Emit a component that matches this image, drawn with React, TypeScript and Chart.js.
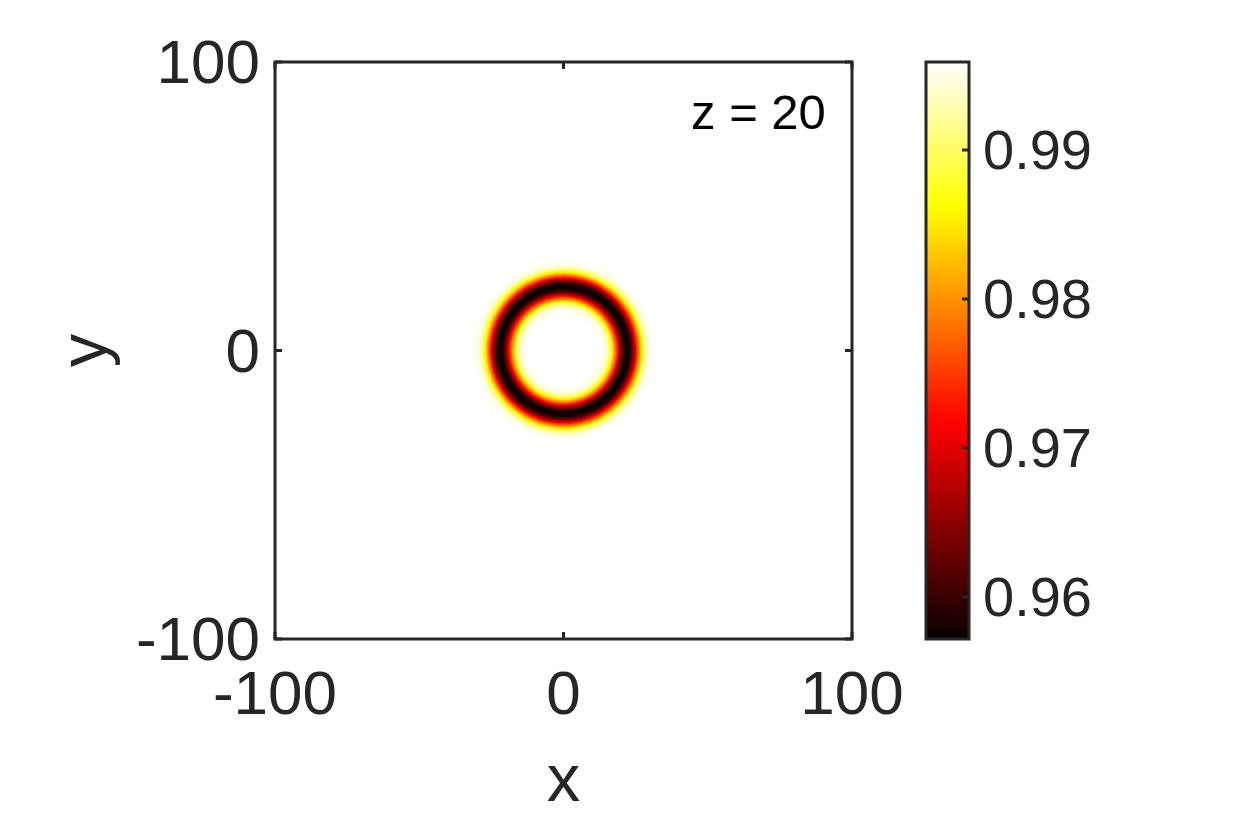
import React, { useEffect, useRef } from 'react';
import { Chart, registerables } from 'chart.js';

Chart.register(...registerables);

// ---- data ----
const X_TICKS = [-100, 0, 100];
const Y_TICKS = [-100, 0, 100];
const CB_TICKS = [0.96, 0.97, 0.98, 0.99];
const CB_MIN = 0.95716;
const CB_MAX = 0.99591;
const X_RANGE = [-100, 100];
const Y_RANGE = [-100, 100];
const RING_CENTER = [0, 0];
// radial profile of the field (radius in x/y units, value)
const PROFILE_R = [0, 12, 13, 14, 15, 16, 17, 18, 19, 20, 21, 22, 23, 24, 25, 26, 27, 28, 29, 30, 31, 32];
const PROFILE_V = [
  0.9959, 0.9959, 0.9957, 0.9952, 0.9938, 0.9905, 0.985, 0.978, 0.9705, 0.9635, 0.9585, 0.9572,
  0.9585, 0.9635, 0.9705, 0.978, 0.985, 0.9905, 0.9938, 0.9952, 0.9957, 0.9959,
];
const ANNOT_TEXT = 'z = 20';
const ANNOT_X = 44.2;
const ANNOT_Y = 81.4;
const X_TITLE = 'x';
const Y_TITLE = 'y';

// hot colormap
const HOT_POS = [0, 0.375, 0.75, 1];
const HOT_RGB = [
  [8, 0, 0],
  [255, 0, 0],
  [255, 255, 0],
  [255, 255, 255],
];

const FONT = '"Liberation Sans", Arial, Helvetica, sans-serif';
const AX_COLOR = '#262626';
const AREA = { left: 275, top: 62, right: 852, bottom: 639 };
const W = 1236;
const H = 823;

function hotColor(t: number): string {
  const tt = Math.max(0, Math.min(1, t));
  for (let i = 0; i < HOT_POS.length - 1; i++) {
    if (tt <= HOT_POS[i + 1]) {
      const f = (tt - HOT_POS[i]) / (HOT_POS[i + 1] - HOT_POS[i]);
      const c = HOT_RGB[i].map((v, k) => Math.round(v + (HOT_RGB[i + 1][k] - v) * f));
      return `rgb(${c[0]},${c[1]},${c[2]})`;
    }
  }
  return 'rgb(255,255,255)';
}

function valueColor(v: number): string {
  return hotColor((v - CB_MIN) / (CB_MAX - CB_MIN));
}

const heatPlugin = {
  id: 'heatRing',
  beforeDatasetsDraw(chart: any) {
    const { ctx, chartArea: a, scales } = chart;
    const x = scales.x;
    const y = scales.y;
    ctx.save();
    ctx.beginPath();
    ctx.rect(a.left, a.top, a.right - a.left, a.bottom - a.top);
    ctx.clip();
    const cx = x.getPixelForValue(RING_CENTER[0]);
    const cy = y.getPixelForValue(RING_CENTER[1]);
    const rMax = PROFILE_R[PROFILE_R.length - 1];
    const rx = Math.abs(x.getPixelForValue(RING_CENTER[0] + rMax) - cx);
    const ry = Math.abs(y.getPixelForValue(RING_CENTER[1] + rMax) - cy);
    ctx.translate(cx, cy);
    ctx.scale(1, ry / rx);
    const g = ctx.createRadialGradient(0, 0, 0, 0, 0, rx);
    PROFILE_R.forEach((r, i) => g.addColorStop(r / rMax, valueColor(PROFILE_V[i])));
    ctx.fillStyle = g;
    ctx.beginPath();
    ctx.arc(0, 0, rx, 0, Math.PI * 2);
    ctx.fill();
    ctx.restore();
  },
  afterDraw(chart: any) {
    const { ctx, chartArea: a, scales } = chart;
    const x = scales.x;
    const y = scales.y;
    const cb = scales.cb;
    const TL = 7;
    ctx.save();
    ctx.strokeStyle = AX_COLOR;
    ctx.lineWidth = 3;
    // ticks (inward, MATLAB style)
    ctx.beginPath();
    X_TICKS.forEach((v) => {
      const px = x.getPixelForValue(v);
      ctx.moveTo(px, a.bottom);
      ctx.lineTo(px, a.bottom - TL);
      ctx.moveTo(px, a.top);
      ctx.lineTo(px, a.top + TL);
    });
    Y_TICKS.forEach((v) => {
      const py = y.getPixelForValue(v);
      ctx.moveTo(a.left, py);
      ctx.lineTo(a.left + TL, py);
      ctx.moveTo(a.right, py);
      ctx.lineTo(a.right - TL, py);
    });
    ctx.stroke();
    // frame
    ctx.strokeRect(a.left, a.top, a.right - a.left, a.bottom - a.top);

    // colorbar
    const cbL = cb.left + 74;
    const cbR = cbL + 43;
    const yTop = cb.getPixelForValue(CB_MAX);
    const yBot = cb.getPixelForValue(CB_MIN);
    const lg = ctx.createLinearGradient(0, yBot, 0, yTop);
    HOT_POS.forEach((p, i) => {
      const c = HOT_RGB[i];
      lg.addColorStop(p, `rgb(${c[0]},${c[1]},${c[2]})`);
    });
    ctx.fillStyle = lg;
    ctx.fillRect(cbL, yTop, cbR - cbL, yBot - yTop);
    ctx.beginPath();
    CB_TICKS.forEach((v) => {
      const py = cb.getPixelForValue(v);
      ctx.moveTo(cbR, py);
      ctx.lineTo(cbR - TL, py);
    });
    ctx.stroke();
    ctx.strokeRect(cbL, yTop, cbR - cbL, yBot - yTop);

    // annotation
    ctx.fillStyle = '#000';
    ctx.font = `49px ${FONT}`;
    ctx.textAlign = 'left';
    ctx.textBaseline = 'middle';
    ctx.fillText(ANNOT_TEXT, x.getPixelForValue(ANNOT_X), y.getPixelForValue(ANNOT_Y));
    ctx.restore();
  },
};

const zeroPadV = (s: any) => {
  s.paddingTop = 0;
  s.paddingBottom = 0;
};

export default function App() {
  const ref = useRef<HTMLCanvasElement | null>(null);
  useEffect(() => {
    if (!ref.current) return;
    const tickFont = { family: FONT, size: 62 };
    const titleFont = { family: FONT, size: 67 };
    const chart = new Chart(ref.current, {
      type: 'scatter',
      data: { datasets: [] },
      options: {
        animation: false,
        responsive: false,
        events: [],
        layout: { padding: { top: AREA.top, left: 0, right: 0, bottom: 0 } },
        plugins: { legend: { display: false }, tooltip: { enabled: false } },
        scales: {
          x: {
            type: 'linear',
            position: 'bottom',
            min: X_RANGE[0],
            max: X_RANGE[1],
            grid: { display: false, drawTicks: false },
            border: { display: false },
            afterBuildTicks: (s: any) => {
              s.ticks = X_TICKS.map((v) => ({ value: v }));
            },
            afterFit: (s: any) => {
              s.height = H - AREA.bottom;
              s.paddingLeft = 0;
              s.paddingRight = 0;
            },
            ticks: {
              font: tickFont,
              color: AX_COLOR,
              padding: 21,
              maxRotation: 0,
              autoSkip: false,
              callback: (v: any) => String(v),
            },
            title: {
              display: true,
              text: X_TITLE,
              font: titleFont,
              color: AX_COLOR,
              padding: { top: 0, bottom: 0 },
            },
          },
          y: {
            type: 'linear',
            position: 'left',
            min: Y_RANGE[0],
            max: Y_RANGE[1],
            grid: { display: false, drawTicks: false },
            border: { display: false },
            afterBuildTicks: (s: any) => {
              s.ticks = Y_TICKS.map((v) => ({ value: v }));
            },
            afterFit: (s: any) => {
              s.width = AREA.left;
              zeroPadV(s);
            },
            ticks: {
              font: tickFont,
              color: AX_COLOR,
              padding: 15,
              labelOffset: 4,
              autoSkip: false,
              callback: (v: any) => String(v),
            },
            title: {
              display: true,
              text: Y_TITLE,
              font: titleFont,
              color: AX_COLOR,
              padding: { top: 47, bottom: 0 },
            },
          },
          cb: {
            type: 'linear',
            position: 'right',
            min: CB_MIN,
            max: CB_MAX,
            grid: { display: false, drawTicks: false },
            border: { display: false },
            afterBuildTicks: (s: any) => {
              s.ticks = CB_TICKS.map((v) => ({ value: v }));
            },
            afterFit: (s: any) => {
              s.width = W - AREA.right;
              zeroPadV(s);
            },
            ticks: {
              font: { family: FONT, size: 56 },
              color: AX_COLOR,
              padding: 131,
              labelOffset: 4,
              autoSkip: false,
              callback: (v: any) => Number(v).toFixed(2),
            },
          },
        },
      },
      plugins: [heatPlugin],
    } as any);
    return () => chart.destroy();
  }, []);
  return (
    <div style={{ position: 'fixed', left: 0, top: 0, width: W, height: H, background: '#fff' }}>
      <canvas ref={ref} width={W} height={H} style={{ display: 'block' }} />
    </div>
  );
}
